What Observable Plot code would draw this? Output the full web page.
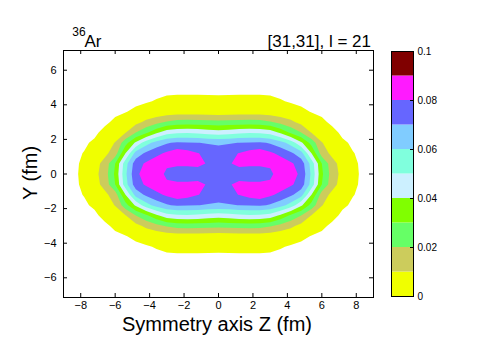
<!DOCTYPE html>
<html><head><meta charset="utf-8">
<script src="https://cdn.jsdelivr.net/npm/d3@7"></script>
<script src="https://cdn.jsdelivr.net/npm/@observablehq/plot@0.6"></script>
<style>
html,body{margin:0;padding:0;background:#fff;}
#chart{position:relative;width:477px;height:359px;font-family:"Liberation Sans",Arial,Helvetica,sans-serif;}
#chart svg{position:absolute;top:0;}
</style></head><body><div id="chart"></div>
<script>
// Grid coordinates of one quadrant (fm); the picture is mirror-symmetric in Z and Y
const zQuadrant = [0, 0.6, 1.2, 1.8, 2.4, 3.0, 3.6, 4.2, 4.8, 5.4, 6.0, 6.6, 7.2, 7.8, 8.4, 9.0];
const yQuadrant = [0, 0.6, 1.2, 1.8, 2.4, 3.0, 3.6, 4.2, 4.8, 5.4, 6.0, 6.6, 7.2];
// Density, rows = Y (0 .. 7.2), columns = Z (0 .. 9)
const densityQuadrant = [
  [0.0765, 0.0755, 0.0735, 0.072, 0.072, 0.077, 0.087, 0.084, 0.078, 0.058, 0.032, 0.015, 0.0069, 0.0024, 0, 0],
  [0.0768, 0.0789, 0.083, 0.0828, 0.0828, 0.0825, 0.086, 0.0815, 0.0755, 0.056, 0.030, 0.0135, 0.006, 0.002, 0, 0],
  [0.0745, 0.0785, 0.0802, 0.0838, 0.086, 0.0817, 0.0774, 0.072, 0.064, 0.040, 0.015, 0.0075, 0.0045, 0.0012, 0, 0],
  [0.0685, 0.069, 0.0702, 0.0705, 0.0715, 0.069, 0.064, 0.056, 0.042, 0.026, 0.0105, 0.0045, 0.0018, 0.0003, 0, 0],
  [0.045, 0.046, 0.048, 0.049, 0.048, 0.046, 0.038, 0.028, 0.020, 0.0095, 0.005, 0.0025, 0, 0, 0, 0],
  [0.023, 0.0235, 0.024, 0.0245, 0.024, 0.021, 0.0165, 0.012, 0.007, 0.004, 0.002, 0, 0, 0, 0, 0],
  [0.004, 0.0045, 0.005, 0.005, 0.0048, 0.0042, 0.0035, 0.003, 0.002, 0.0008, 0, 0, 0, 0, 0, 0],
  [0.0025, 0.0026, 0.0028, 0.0028, 0.0027, 0.0023, 0.0013, 0.0006, 0, 0, 0, 0, 0, 0, 0, 0],
  [0, 0, 0, 0, 0, 0, 0, 0, 0, 0, 0, 0, 0, 0, 0, 0],
  [0, 0, 0, 0, 0, 0, 0, 0, 0, 0, 0, 0, 0, 0, 0, 0],
  [0, 0, 0, 0, 0, 0, 0, 0, 0, 0, 0, 0, 0, 0, 0, 0],
  [0, 0, 0, 0, 0, 0, 0, 0, 0, 0, 0, 0, 0, 0, 0, 0],
  [0, 0, 0, 0, 0, 0, 0, 0, 0, 0, 0, 0, 0, 0, 0, 0]
];
// Contour levels (lowest is the edge of the filled area) and colour bands
const contourLevels = [0.001, 0.01, 0.02, 0.03, 0.04, 0.05, 0.06, 0.07, 0.08];
const colorBreaks = [0.01, 0.02, 0.03, 0.04, 0.05, 0.06, 0.07, 0.08, 0.09];
const colorHex = ["#f0ff00", "#cccc5c", "#66ff66", "#80ff00", "#ccf0ff", "#80ffdd", "#80ccff", "#6666ff", "#ff1aff", "#800000"];
const colorbarLevels = [0, 0.01, 0.02, 0.03, 0.04, 0.05, 0.06, 0.07, 0.08, 0.09, 0.1];
const colorbarTicks = [0, 0.02, 0.04, 0.06, 0.08, 0.1];
const xTicks = [-8, -6, -4, -2, 0, 2, 4, 6, 8];
const yTicks = [-6, -4, -2, 0, 2, 4, 6];
const xDomain = [-9, 9];
const yDomain = [-7.14, 7.14];
const titleIsotope = "Ar", titleMass = "36";
const titleRight = "[31,31], l = 21";
const xLabel = "Symmetry axis Z (fm)";
const yLabel = "Y (fm)";

// mirror the quadrant into the full grid
const nz = zQuadrant.length, ny = yQuadrant.length;
const W = 2 * nz - 1, H = 2 * ny - 1;
const values = new Array(W * H);
for (let r = 0; r < H; r++) for (let k = 0; k < W; k++) {
  values[r * W + k] = densityQuadrant[Math.abs(r - (ny - 1))][Math.abs(k - (nz - 1))];
}
const dz = zQuadrant[1] - zQuadrant[0], dy = yQuadrant[1] - yQuadrant[0];
const zMax = zQuadrant[nz - 1], yMax = yQuadrant[ny - 1];

const font = '"Liberation Sans", Arial, Helvetica, sans-serif';
const colorScale = {type: "threshold", domain: colorBreaks, range: colorHex};

const main = Plot.plot({
  width: 477, height: 359,
  marginLeft: 63, marginRight: 104, marginTop: 50, marginBottom: 62,
  style: {fontFamily: font, fontSize: "11px", background: "transparent", color: "black"},
  x: {domain: xDomain, axis: null},
  y: {domain: yDomain, axis: null},
  color: colorScale,
  marks: [
    Plot.contour(values, {
      width: W, height: H,
      x1: -zMax - dz / 2, x2: zMax + dz / 2,
      y1: -yMax - dy / 2, y2: yMax + dy / 2,
      thresholds: contourLevels,
      fill: Plot.identity
    }),
    Plot.tickX(xTicks, {insetTop: 243, stroke: "black"}),
    Plot.tickX(xTicks, {insetBottom: 243, stroke: "black"}),
    Plot.tickY(yTicks, {insetRight: 306, stroke: "black"}),
    Plot.tickY(yTicks, {insetLeft: 306, stroke: "black"}),
    Plot.frame({stroke: "black"}),
    Plot.axisX(xTicks, {tickSize: 0, tickPadding: 4, label: null}),
    Plot.axisY(yTicks, {tickSize: 0, tickPadding: 7, label: null})
  ]
});

const bands = colorbarLevels.slice(0, -1).map((lo, i) => ({lo, hi: colorbarLevels[i + 1]}));
const bar = Plot.plot({
  width: 97, height: 359,
  marginLeft: 11, marginRight: 64, marginTop: 51, marginBottom: 63,
  style: {fontFamily: font, fontSize: "10px", background: "transparent", color: "black"},
  x: {domain: [0, 1], axis: null},
  y: {domain: [0, 0.1], axis: null},
  color: colorScale,
  marks: [
    Plot.rect(bands, {x1: 0, x2: 1, y1: "lo", y2: "hi", fill: "lo"}),
    Plot.tickY(colorbarTicks.slice(1, -1), {insetLeft: 19, stroke: "black"}),
    Plot.frame({stroke: "black"}),
    Plot.axisY(colorbarTicks, {anchor: "right", tickSize: 0, tickPadding: 4, label: null, tickFormat: d => String(d)})
  ]
});

const holder = document.getElementById("chart");
holder.appendChild(main);
bar.style.left = "380px";
holder.appendChild(bar);

const svg = d3.select(main);
svg.append("text").attr("x", 79).attr("y", 36).attr("font-size", 12).attr("font-family", font).text(titleMass);
svg.append("text").attr("x", 93).attr("y", 47).attr("font-size", 17).attr("font-family", font).text(titleIsotope);
svg.append("text").attr("x", 371).attr("y", 47).attr("font-size", 17).attr("font-family", font).attr("text-anchor", "end").text(titleRight);
svg.append("text").attr("x", 217).attr("y", 331).attr("font-size", 20).attr("font-family", font).attr("text-anchor", "middle").text(xLabel);
svg.append("text").attr("transform", "translate(37,173) rotate(-90)").attr("font-size", 20).attr("font-family", font).attr("text-anchor", "middle").text(yLabel);
</script></body></html>
